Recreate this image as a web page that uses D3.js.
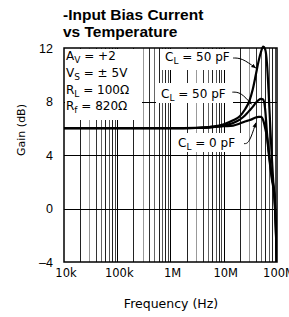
<!DOCTYPE html>
<html>
<head>
<meta charset="utf-8">
<script src="https://cdn.jsdelivr.net/npm/d3@7"></script>
<style>
  body { margin: 0; background: #fff; }
  svg { display: block; }
</style>
</head>
<body>
<svg id="chart" width="289" height="317"></svg>
<script>
  // gain curves (freq in Hz, gain in dB)
  var freqTop = [1e4, 1e6, 3e6, 6e6, 1e7, 1.5e7, 2e7, 2.5e7, 3e7, 3.5e7, 4e7, 4.5e7, 5e7, 5.5e7, 6e7, 6.5e7, 7e7, 7.5e7, 8e7, 8.5e7, 9e7, 9.5e7, 1e8];
  var gainTop = [6, 6, 6.03, 6.12, 6.3, 6.6, 6.9, 7.4, 8.0, 8.9, 10.0, 11.0, 11.7, 12.1, 11.9, 10.8, 8.5, 6.0, 3.8, 2.0, 0.6, -1.4, -4.5];

  var freqMid = [1e4, 1e6, 3e6, 6e6, 1e7, 1.5e7, 2e7, 2.5e7, 3e7, 3.5e7, 4e7, 4.5e7, 5e7, 5.5e7, 6e7, 6.5e7, 7e7, 8e7, 9e7, 9.5e7, 1e8];
  var gainMid = [6, 6, 6.02, 6.1, 6.2, 6.4, 6.65, 6.95, 7.3, 7.6, 7.9, 8.1, 8.2, 8.15, 7.4, 5.6, 4.3, 2.4, 1.0, -1.2, -4.5];

  var freqLow = [1e4, 1e6, 3e6, 6e6, 1e7, 1.5e7, 2e7, 2.5e7, 3e7, 3.5e7, 4e7, 4.5e7, 5e7, 5.5e7, 6e7, 6.5e7, 7e7, 8e7, 9e7, 9.5e7, 1e8];
  var gainLow = [6, 6, 6.02, 6.07, 6.15, 6.2, 6.35, 6.5, 6.6, 6.7, 6.8, 6.85, 6.85, 6.6, 6.0, 5.3, 4.1, 2.2, 0.8, -1.5, -4.5];

  var yTicks = [12, 8, 4, 0, -4];
  var yGrid = [8, 4, 0];
  var xTicks = [1e4, 1e5, 1e6, 1e7, 1e8];
  var xTickLabels = ["10k", "100k", "1M", "10M", "100M"];

  var svg = d3.select("#chart"),
      pLeft = 64, pTop = 48, w = 213, h = 214;

  var x = d3.scaleLog().domain([1e4, 1e8]).range([pLeft, pLeft + w]);
  var y = d3.scaleLinear().domain([-4, 12]).range([pTop + h, pTop]);

  // title
  svg.append("text").attr("x", 63).attr("y", 20)
    .attr("font-family", "Liberation Sans, Arial, sans-serif")
    .attr("font-weight", "bold").attr("font-size", 15.5)
    .text("-Input Bias Current");
  svg.append("text").attr("x", 63).attr("y", 37)
    .attr("font-family", "Liberation Sans, Arial, sans-serif")
    .attr("font-weight", "bold").attr("font-size", 15.5)
    .text("vs Temperature");

  // vertical log grid
  var mColor = { 2: "#222", 3: "#999", 4: "#333", 5: "#666", 6: "#222", 7: "#555", 8: "#222", 9: "#444" };
  var vLines = [];
  for (var d = 1e4; d < 1e8; d *= 10) {
    for (var m = 2; m <= 9; m++) vLines.push({ f: d * m, c: mColor[m] });
    if (d > 1e4) vLines.push({ f: d, c: "#000" });
  }
  svg.append("g").selectAll("line").data(vLines).enter().append("line")
    .attr("x1", function(d) { return Math.round(x(d.f)) + 0.5; })
    .attr("x2", function(d) { return Math.round(x(d.f)) + 0.5; })
    .attr("y1", pTop).attr("y2", pTop + h)
    .attr("stroke", function(d) { return d.c; }).attr("stroke-width", 1);

  svg.append("g").selectAll("line").data(yGrid).enter().append("line")
    .attr("x1", pLeft).attr("x2", pLeft + w)
    .attr("y1", function(d) { return Math.round(y(d)) + 0.5; })
    .attr("y2", function(d) { return Math.round(y(d)) + 0.5; })
    .attr("stroke", "#000").attr("stroke-width", 1);

  // white label backgrounds hide the grid
  var boxes = [
    [pLeft + 1, pTop + 1, 141 - pLeft, 71],
    [160, pTop + 1, 73, 21],
    [156, 83, 77, 20],
    [175, 133, 69, 19]
  ];
  svg.append("g").selectAll("rect").data(boxes).enter().append("rect")
    .attr("x", function(d) { return d[0]; }).attr("y", function(d) { return d[1]; })
    .attr("width", function(d) { return d[2]; }).attr("height", function(d) { return d[3]; })
    .attr("fill", "#fff");

  // curves
  svg.append("clipPath").attr("id", "clip").append("rect")
    .attr("x", pLeft).attr("y", pTop - 3).attr("width", w).attr("height", h + 3);

  var line = d3.line()
    .x(function(d) { return x(d[0]); })
    .y(function(d) { return y(d[1]); })
    .curve(d3.curveMonotoneX);

  var series = [
    d3.zip(freqTop, gainTop),
    d3.zip(freqMid, gainMid),
    d3.zip(freqLow, gainLow)
  ];
  svg.append("g").attr("clip-path", "url(#clip)")
    .selectAll("path").data(series).enter().append("path")
    .attr("d", line).attr("fill", "none")
    .attr("stroke", "#000").attr("stroke-width", 2.2);

  // frame
  svg.append("rect").attr("x", pLeft).attr("y", pTop).attr("width", w).attr("height", h)
    .attr("fill", "none").attr("stroke", "#000").attr("stroke-width", 1.5);

  // axis labels
  svg.append("g").selectAll("text").data(yTicks).enter().append("text")
    .attr("x", 53).attr("y", function(d) { return y(d) + 4.5; })
    .attr("text-anchor", "end")
    .attr("font-family", "Liberation Sans, Arial, sans-serif").attr("font-size", 12.5)
    .text(function(d) { return d < 0 ? "\u2013" + (-d) : d; });

  svg.append("g").selectAll("text").data(xTicks).enter().append("text")
    .attr("x", function(d) { return x(d) + 2; }).attr("y", 277)
    .attr("text-anchor", "middle")
    .attr("font-family", "DejaVu Sans, sans-serif").attr("font-size", 11.5)
    .text(function(d, i) { return xTickLabels[i]; });

  svg.append("text").attr("x", 171).attr("y", 308).attr("text-anchor", "middle")
    .attr("font-family", "DejaVu Sans, sans-serif").attr("font-size", 12.5)
    .text("Frequency (Hz)");

  svg.append("text").attr("transform", "translate(25,130) rotate(-90)")
    .attr("text-anchor", "middle")
    .attr("font-family", "DejaVu Sans, sans-serif").attr("font-size", 11)
    .text("Gain (dB)");

  // condition text with subscripts
  function subText(px, py, main, sub, rest) {
    var t = svg.append("text").attr("x", px).attr("y", py)
      .attr("font-family", "DejaVu Sans, sans-serif").attr("font-size", 12);
    t.append("tspan").text(main);
    t.append("tspan").attr("font-size", 9).attr("dy", 3).text(sub);
    t.append("tspan").attr("dy", -3).text(rest);
  }
  subText(66, 60, "A", "V", " = +2");
  subText(66, 77, "V", "S", " = \u00b1 5V");
  subText(66, 94, "R", "L", " = 100\u03a9");
  subText(66, 110, "R", "f", " = 820\u03a9");

  subText(165, 61, "C", "L", " = 50 pF");
  subText(161, 98, "C", "L", " = 50 pF");
  subText(178, 147, "C", "L", " = 0 pF");

  // leader lines (in data coords)
  var leaders = [
    [[1.5e7, 11.25], [2.2e7, 11.25], [4.0e7, 10.5]],
    [[1.45e7, 8.7], [2.1e7, 8.7], [3.3e7, 7.8]],
    [[2.4e7, 4.85], [3.0e7, 4.85], [4.0e7, 6.4]]
  ];
  var leaderLine = d3.line()
    .x(function(d) { return x(d[0]); })
    .y(function(d) { return y(d[1]); })
    .curve(d3.curveBasis);
  svg.append("defs").append("marker").attr("id", "arr")
    .attr("viewBox", "0 0 10 10").attr("refX", 9).attr("refY", 5)
    .attr("markerWidth", 5).attr("markerHeight", 5).attr("orient", "auto")
    .append("path").attr("d", "M0,1L10,5L0,9z").attr("fill", "#000");
  svg.append("g").selectAll("path").data(leaders).enter().append("path")
    .attr("d", leaderLine).attr("fill", "none")
    .attr("stroke", "#000").attr("stroke-width", 1)
    .attr("marker-end", "url(#arr)");
</script>
</body>
</html>
